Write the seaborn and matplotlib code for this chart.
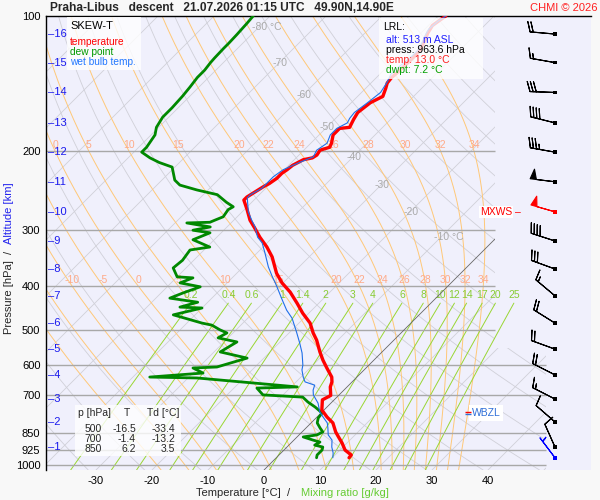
import numpy as np
import pandas as pd
import matplotlib
matplotlib.use("Agg")
import matplotlib.pyplot as plt
import matplotlib.transforms as mtransforms
from matplotlib.patches import Polygon, Rectangle
from matplotlib.ticker import NullLocator
import seaborn as sns

# sounding: pressure [hPa] / temperature [degC]
temp_p = [963.6, 950, 926, 893, 866, 844, 806, 782, 754, 716,
          700, 670, 653, 637, 608, 584, 560, 527, 508, 483,
          459, 436, 412, 393, 374, 344, 327, 311, 297, 285,
          270, 257, 253, 247, 240, 236, 230, 224, 220, 215,
          209, 207, 204, 199, 196, 192, 184, 178, 177, 170,
          164, 156, 151, 145, 141, 137, 132, 124, 119, 114,
          109, 105, 102, 100]
temp_t = [13.0, 12.9, 10.9, 9.1, 7.4, 6.0, 3.9, 1.8, -0.4, -2.1,
          -1.4, -3.0, -3.6, -4.5, -7.0, -9.1, -11.1, -13.8, -15.7, -18.0,
          -21.1, -23.9, -27.1, -30.2, -32.9, -36.6, -39.3, -42.3, -44.8, -47.1,
          -49.5, -51.8, -51.8, -51.3, -50.7, -50.2, -49.8, -49.8, -49.5, -49.3,
          -48.4, -47.1, -46.8, -47.1, -45.9, -46.3, -47.5, -47.5, -45.9, -46.6,
          -47.1, -46.6, -45.5, -46.4, -47.1, -47.3, -47.1, -47.0, -47.1, -47.9,
          -48.8, -49.3, -48.9, -48.6]

dwpt_p = [963.6, 950, 926, 912, 903, 889, 880, 866, 857, 844,
          827, 806, 786, 766, 743, 724, 706, 698, 674, 670,
          640, 637, 624, 608, 605, 578, 560, 532, 521, 508,
          500, 488, 483, 463, 447, 445, 434, 425, 414, 401,
          393, 383, 381, 364, 350, 332, 327, 315, 304, 300,
          295, 289, 288, 285, 280, 270, 266, 260, 250, 244,
          238, 232, 217, 212, 207, 201, 196, 184, 177, 168,
          160, 151, 144, 137, 132, 127, 124, 118, 115, 110,
          107, 104, 100]
dwpt_t = [7.2, 6.8, 6.8, 6.4, 4.6, 5.0, 3.4, 1.1, 3.2, 3.7,
          2.5, 1.1, 0.4, 0.2, -2.1, -4.3, -6.1, -13.6, -15.9, -8.9,
          -28.4, -37.0, -28.2, -30.9, -26.8, -23.0, -28.9, -27.7, -31.8, -31.1,
          -32.9, -35.2, -37.3, -43.9, -40.0, -44.1, -41.8, -47.5, -46.1, -44.1,
          -48.4, -47.0, -50.0, -52.3, -52.0, -52.5, -49.5, -53.8, -52.0, -55.5,
          -53.0, -57.9, -53.9, -53.4, -52.5, -52.9, -52.5, -54.5, -57.5, -62.0,
          -65.9, -67.7, -70.5, -73.6, -76.1, -78.6, -78.6, -79.3, -80.4, -81.1,
          -81.1, -81.3, -81.6, -82.0, -82.0, -82.3, -82.4, -82.5, -82.5, -82.6,
          -82.7, -82.8, -83.0]

wetb_p = [963.6, 940, 912, 880, 857, 827, 806, 782, 762, 728,
          698, 681, 664, 653, 637, 614, 599, 563, 535, 506,
          471, 452, 429, 401, 393, 381, 362, 337, 320, 311,
          295, 285, 273, 254, 250, 242, 236, 228, 220, 212,
          206, 199, 192, 184, 178, 173, 169, 164, 156, 148,
          140, 135, 131, 124, 119, 114, 110, 107, 103, 100]
wetb_t = [10.1, 9.3, 8.0, 6.8, 5.2, 3.9, 2.9, 1.1, -0.4, -2.3,
          -4.6, -5.5, -6.1, -8.4, -9.6, -11.1, -11.8, -14.1, -16.3, -18.8,
          -22.1, -24.5, -27.1, -30.4, -31.4, -33.0, -35.5, -38.6, -40.9, -42.7,
          -45.0, -46.8, -48.9, -51.6, -51.6, -50.7, -50.7, -50.7, -50.2, -48.6,
          -47.1, -47.7, -47.1, -48.0, -48.0, -47.1, -47.5, -47.7, -47.1, -46.6,
          -47.3, -48.0, -48.0, -47.5, -47.5, -48.2, -48.9, -49.3, -49.1, -48.6]

# altitude marks [km] and their pressure
alt_km = [16, 15, 14, 13, 12, 11, 10, 9, 8, 7, 6, 5, 4, 3, 2, 1]
alt_p = [109.7, 127, 148, 173, 201, 234, 273, 317, 366, 420, 483, 552, 630, 713, 802, 912]

# winds at each km + surface (direction from, speed kt)
wind_p = alt_p + [963.6]
wind_dir = [275, 280, 272, 284, 280, 277, 286, 288, 290, 310, 302, 290, 297, 297, 311, 336, 323]
wind_spd = [20, 15, 30, 40, 35, 50, 50, 40, 30, 15, 20, 20, 20, 15, 10, 10, 5]
wind_col = ["black"] * 6 + ["red"] + ["black"] * 9 + ["blue"]
mxws_p = 273

# background line sets
isobars_up = [200, 300, 400, 500]
isobars_low = [600, 700, 850, 925, 1000]
isotherm_lab_t = [-80, -70, -60, -50, -40, -30, -20, -10]
isotherm_lab_p = [106, 127, 150, 177, 206, 238, 273, 311]
moist_thw = [-20, -15, -10, -5, 0, 5, 10, 15, 20, 22, 24, 26, 28, 30, 32, 34]
mix_w = [0.2, 0.4, 0.6, 1, 1.4, 2, 3, 4, 6, 8, 10, 12, 14, 17, 20, 25]
p_ticks = [100, 200, 300, 400, 500, 600, 700, 850, 925, 1000]
t_ticks = [-30, -20, -10, 0, 10, 20, 30, 40]

table_p = [500, 700, 850]
table_t = [-16.5, -1.4, 6.2]
table_td = [-33.4, -13.2, 3.5]
lrl_alt, lrl_press, lrl_temp, lrl_dwpt = 513, 963.6, 13.0, 7.2
wbzl_p = 766

station, kind, stamp, coords = "Praha-Libus", "descent", "21.07.2026 01:15 UTC", "49.90N,14.90E"

sns.set_style("white")
plt.rcParams["font.family"] = ["Liberation Sans", "DejaVu Sans"]

P_BOT, P_TOP = 1025.97, 100.0
SKEW = 34.82
X_LEFT, X_RIGHT = -38.93, 58.39
X_UP, X_LOW, P_STEP = 41.25, 50.36, 550.0
X_BARB = 51.96


def skew(t, p):
    return np.asarray(t, float) + SKEW * np.log(P_BOT / np.asarray(p, float))


def px(x, y):
    return x / 600, 1 - y / 500


def moist_adiabats(thw, p_path):
    Rd, Cp, Lv, eps = 287.04, 1005.7, 2.501e6, 0.622

    def slope(T, p):
        es = 6.112 * np.exp(17.67 * (T - 273.15) / (T - 29.65))
        rs = eps * es / (p - es)
        return (Rd * T + Lv * rs) / p / (Cp + Lv * Lv * rs * eps / (Rd * T * T))

    T = np.asarray(thw, float) + 273.15
    out = [T.copy()]
    for p0, p1 in zip(p_path[:-1], p_path[1:]):
        h = p1 - p0
        k1 = slope(T, p0)
        k2 = slope(T + h / 2 * k1, p0 + h / 2)
        k3 = slope(T + h / 2 * k2, p0 + h / 2)
        k4 = slope(T + h * k3, p1)
        T = T + h / 6 * (k1 + 2 * k2 + 2 * k3 + k4)
        out.append(T.copy())
    return np.array(out) - 273.15


fig = plt.figure(figsize=(6, 5), dpi=100, facecolor="#f8f8f8")
ax = fig.add_axes([46 / 600, 30 / 500, 545 / 600, 454 / 500])
ax.set_facecolor("#f0f0fc")
ax.set_yscale("log")
ax.set_xlim(X_LEFT, X_RIGHT)
ax.set_ylim(P_BOT, P_TOP)

clip = Polygon([(X_LEFT, P_BOT), (X_LEFT, P_TOP), (X_UP, P_TOP), (X_UP, P_STEP),
                (X_LOW, P_STEP), (X_LOW, P_BOT)], closed=True,
               transform=ax.transData, fc="none", ec="none")

pp = np.geomspace(P_BOT, P_TOP, 200)
# isotherms
for t in range(-130, 60, 10):
    c, z = ("#666666", 2.5) if t == 0 else ("#d0d0d8", 1)
    ln, = ax.plot(skew(np.full_like(pp, t), pp), pp, color=c, lw=0.6, zorder=z)
    ln.set_clip_path(clip)
# dry adiabats
for th in range(240, 480, 10):
    ln, = ax.plot(skew(th * (pp / 1000) ** 0.2857 - 273.15, pp), pp,
                  color="#d0d0d8", lw=0.6, zorder=1)
    ln.set_clip_path(clip)
# moist adiabats
p_up = np.linspace(1000, 100, 181)
p_dn = np.linspace(1000, P_BOT, 6)
t_up = moist_adiabats(moist_thw, p_up)
t_dn = moist_adiabats(moist_thw, p_dn)
p_all = np.concatenate([p_dn[::-1], p_up[1:]])
t_all = np.concatenate([t_dn[::-1], t_up[1:]])
for i, thw in enumerate(moist_thw):
    ln, = ax.plot(skew(t_all[:, i], p_all), p_all, color="#ffc878", lw=0.7, zorder=1.1)
    ln.set_clip_path(clip)
    for plab in (200, 400):
        tl = np.interp(np.log(plab), np.log(p_all[::-1]), t_all[::-1, i])
        xl = float(skew(tl, plab))
        if X_LEFT + 1 < xl < X_UP - 1:
            ax.annotate(str(thw), (xl, plab), xytext=(0, 1), textcoords="offset points",
                        ha="center", va="bottom", color="#ffaa88", fontsize=7.5, zorder=2)
# mixing ratio lines
pm = np.geomspace(P_BOT, 436, 60)
for w in mix_w:
    e = w * pm / (622 + w)
    a = np.log(e / 6.112)
    td = 243.5 * a / (17.67 - a)
    ax.plot(skew(td, pm), pm, color="#99d633", lw=0.7, zorder=1.2)
    ax.text(float(skew(td[-1], 436)), 418, f"{w:g}", ha="center", va="center",
            color="#88cc33", fontsize=7.5, zorder=2)
# isotherm labels
for t, p in zip(isotherm_lab_t, isotherm_lab_p):
    lab = f"{t} °C" if t in (-80, -10) else str(t)
    ax.text(float(skew(t, p)) - 1.2, p, lab, ha="left", va="center",
            color="#aaaaaa", fontsize=7.5, zorder=2)
# isobars
ax.hlines(isobars_up, X_LEFT, X_UP, color="#a8a8a8", lw=1.0, zorder=1.5)
ax.hlines(isobars_low, X_LEFT, X_LOW, color="#a8a8a8", lw=1.0, zorder=1.5)

# profiles
sns.lineplot(x=skew(dwpt_t, dwpt_p), y=dwpt_p, sort=False, estimator=None,
             color="#008800", lw=2.0, ax=ax, zorder=3)
sns.lineplot(x=skew(temp_t, temp_p), y=temp_p, sort=False, estimator=None,
             color="#ff0000", lw=2.4, ax=ax, zorder=3.2)
sns.lineplot(x=skew(wetb_t, wetb_p), y=wetb_p, sort=False, estimator=None,
             color="#1f6fe8", lw=0.8, ax=ax, zorder=3.4)

# wind barbs
spd = np.array(wind_spd, float)
rad = np.radians(wind_dir)
u, v = -spd * np.sin(rad), -spd * np.cos(rad)
bx = np.full(len(wind_p), X_BARB)
ax.barbs(bx, wind_p, u, v, length=6, linewidth=0.8, barbcolor=wind_col,
         flagcolor=wind_col, zorder=4, clip_on=False)
ax.scatter(bx, wind_p, marker="s", s=7, c=wind_col, linewidths=0, zorder=4.5)
ax.annotate("MXWS", (X_BARB, mxws_p), xytext=(-31, 0), textcoords="offset points",
            ha="right", va="center", color="red", fontsize=7.5,
            bbox=dict(boxstyle="square,pad=0.1", fc="white", ec="none"), zorder=5)
ax.annotate("\u2013", (X_BARB, mxws_p), xytext=(-26.5, 0), textcoords="offset points",
            ha="center", va="center", color="red", fontsize=7.5, zorder=5)

# WBZL label with its red/blue double dash
ax.annotate("WBZL", (37.1, wbzl_p), ha="left", va="center", color="#2f6fd8", fontsize=7.5,
            bbox=dict(boxstyle="square,pad=0.25", fc="white", ec="none"), zorder=5)
for dy, col in ((1.0, "red"), (-1.0, "#2f6fd8")):
    tr = mtransforms.offset_copy(ax.transData, fig=fig, x=-2.4, y=dy, units="points")
    ax.plot([37.1], [wbzl_p], marker="_", markersize=4.5, mew=1.0, color=col,
            transform=tr, zorder=6)

# altitude marks
blend = mtransforms.blended_transform_factory(ax.transAxes, ax.transData)
for k, p in zip(alt_km, alt_p):
    ax.text(2 / 545, p, f"\u2013{k}", transform=blend, ha="left", va="center",
            color="#1a1aee", fontsize=8, zorder=5)

# axes cosmetics
ax.set_yticks(p_ticks)
ax.set_yticklabels([str(p) for p in p_ticks])
ax.yaxis.set_minor_locator(NullLocator())
ax.set_xticks(t_ticks)
ax.set_xticklabels([str(t) for t in t_ticks])
ax.tick_params(length=0, labelsize=8, pad=4, colors="black")
ax.set_xlabel("")
ax.set_ylabel("")
for s in ("right", "bottom"):
    ax.spines[s].set_visible(False)
for s in ("left", "top"):
    ax.spines[s].set_color("black")
    ax.spines[s].set_linewidth(1.0)

# boxes
def box(x0, y0, x1, y1, alpha=0.8):
    fx, fy = px(x0, y1)
    fig.add_artist(Rectangle((fx, fy), (x1 - x0) / 600, (y1 - y0) / 500,
                             transform=fig.transFigure, fc="white", ec="none",
                             alpha=alpha, zorder=5))

box(67, 17, 141, 70)
for txt, col, y, fs in [("SKEW-T", "black", 26, 8), ("temperature", "#ff0000", 42, 7.3),
                        ("dew point", "#009900", 52, 7.3), ("wet bulb temp.", "#2277ff", 62, 7.3)]:
    fig.text(*px(70, y), txt, color=col, fontsize=fs, va="center", zorder=6)

box(379, 18, 483, 79)
lrl_lines = [("LRL:", "black", 383, 27),
             (f"alt: {lrl_alt} m ASL", "#2020ff", 386, 40),
             (f"press: {lrl_press:.1f} hPa", "black", 386, 50),
             (f"temp: {lrl_temp:.1f} °C", "#ff2020", 386, 60),
             (f"dwpt: {lrl_dwpt:.1f} °C", "#00a000", 386, 70)]
for txt, col, x, y in lrl_lines:
    fig.text(*px(x, y), txt, color=col, fontsize=7.5, va="center", zorder=6)

box(75, 405, 181, 456)
fig.text(*px(78, 413), "p [hPa]", fontsize=7.5, va="center", zorder=6)
fig.text(*px(127, 413), "T", fontsize=7.5, va="center", ha="center", zorder=6)
fig.text(*px(147, 413), "Td [°C]", fontsize=7.5, va="center", zorder=6)
for i, (p, t, td) in enumerate(zip(table_p, table_t, table_td)):
    y = 429 + 10.2 * i
    fig.text(*px(102, y), str(p), fontsize=7.5, va="center", ha="right", zorder=6)
    fig.text(*px(136, y), f"{t:.1f}", fontsize=7.5, va="center", ha="right", zorder=6)
    fig.text(*px(175, y), f"{td:.1f}", fontsize=7.5, va="center", ha="right", zorder=6)

# titles and axis labels
fig.text(*px(50, 8), f"{station}   {kind}   {stamp}   {coords}", fontsize=8.6,
         fontweight="bold", va="center")
fig.text(*px(597, 8), "CHMI © 2026", fontsize=8, color="#ff2020", va="center", ha="right")
fig.text(*px(238, 493), "Temperature [°C]", fontsize=8, ha="center", va="center")
fig.text(*px(289, 493), "/", fontsize=8, ha="center", va="center")
fig.text(*px(345, 493), "Mixing ratio [g/kg]", fontsize=8, color="#66cc33",
         ha="center", va="center")
fig.text(*px(9, 297), "Pressure [hPa]", fontsize=8, rotation=90, ha="center", va="center")
fig.text(*px(9, 252), "/", fontsize=8, rotation=90, ha="center", va="center")
fig.text(*px(9, 213), "Altitude [km]", fontsize=8, rotation=90, color="#2222ee",
         ha="center", va="center")

fig.savefig("out.png", dpi=100, facecolor=fig.get_facecolor())
